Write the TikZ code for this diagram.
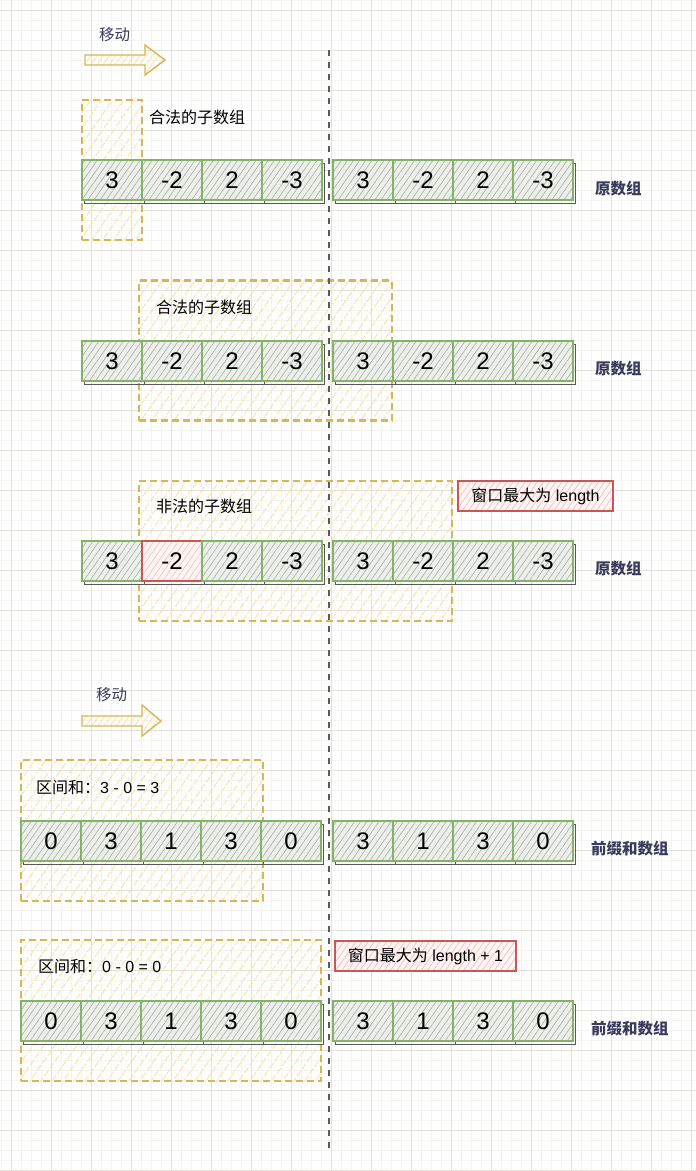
\documentclass[tikz,border=0pt]{standalone}
\usepackage{fontspec}
\setmainfont{Liberation Sans}
\newfontfamily\cjk{Noto Sans CJK SC}
\usetikzlibrary{patterns.meta}
\definecolor{cgreen}{HTML}{82B366}
\definecolor{cellbg}{HTML}{ECEFEA}
\definecolor{cellhatch}{HTML}{9EA59C}
\definecolor{ystroke}{HTML}{D6B656}
\definecolor{yhatch}{HTML}{FAE4A4}
\definecolor{rstroke}{HTML}{C95753}
\definecolor{rhatch}{HTML}{F2B9B7}
\definecolor{rbg}{HTML}{FDF4F4}
\definecolor{labelc}{HTML}{3A3A5C}
\definecolor{gridmaj}{HTML}{E3E1DA}
\definecolor{gridmin}{HTML}{F4F3EF}
\definecolor{dashc}{HTML}{5A5A5A}
\tikzset{
  shadowln/.style={draw=black!65, line width=0.7pt},
  gc/.style={draw=cgreen, line width=1.1pt, minimum width=60pt, minimum height=40pt, inner sep=0pt,
    font=\fontsize{24}{28}\selectfont, preaction={fill=cellbg},
    pattern={Lines[angle=55,distance=5pt,line width=0.5pt]}, pattern color=cellhatch},
  rc/.style={gc, draw=rstroke, preaction={fill=rbg}, pattern color=rhatch},
  ybox/.style={draw=ystroke, line width=2.2pt, dash pattern=on 7pt off 4pt, inner sep=0pt,
    pattern={Lines[angle=55,distance=9pt,line width=0.9pt]}, pattern color=yhatch},
  rbox/.style={draw=rstroke, line width=1.1pt, inner sep=0pt, preaction={fill=rbg},
    pattern={Lines[angle=55,distance=5pt,line width=0.6pt]}, pattern color=rhatch,
    font=\fontsize{16}{19}\selectfont},
  blockarrow/.style={draw=ystroke, line width=1.4pt, line join=miter,
    pattern={Lines[angle=55,distance=5pt,line width=0.8pt]}, pattern color=yhatch},
  lbl/.style={anchor=west, inner sep=0pt, font=\fontsize{16}{19}\selectfont},
  rowlbl/.style={anchor=west, inner sep=0pt, text=labelc, font=\fontsize{15.5}{18}\selectfont\cjk\bfseries},
  movelbl/.style={anchor=west, inner sep=0pt, text=labelc, font=\fontsize{15.5}{18}\selectfont\cjk},
  vdash/.style={draw=dashc, line width=2pt, dash pattern=on 6pt off 6pt}
}
\newcommand\cellrow[4]{%
  \foreach \t/\s [count=\k, evaluate=\k as \xx using {#2+60*(\k-1)}] in {#4} {
    \draw[shadowln] (\xx+2,#3+3) rectangle (\xx+62,#3+43);
    \node[\s] (#1\k) at (\xx+30,#3+20) {\t};
  }%
}
\begin{document}
\begin{tikzpicture}[x=1pt,y=-1pt]
\fill[white] (0,0) rectangle (696,1171);
\useasboundingbox (0,0) rectangle (696,1171);
% grid
\foreach \i in {1,11,...,691} \draw[gridmin, line width=0.8pt] (\i,0) -- (\i,1171);
\foreach \j in {0,10,...,1170} \draw[gridmin, line width=0.8pt] (0,\j) -- (696,\j);
\foreach \i in {11,51,...,691} \draw[gridmaj, line width=1pt] (\i,0) -- (\i,1171);
\foreach \j in {10,50,...,1170} \draw[gridmaj, line width=1pt] (0,\j) -- (696,\j);

% yellow windows
\node[ybox, minimum width=60pt, minimum height=140pt] (w1) at (112,170) {};
\node[ybox, minimum width=253pt, minimum height=140pt] (w2) at (265.5,350.5) {};
\node[ybox, minimum width=313pt, minimum height=140pt] (w3) at (295.5,551) {};
\node[ybox, minimum width=242pt, minimum height=141pt] (w4) at (142,830.5) {};
\node[ybox, minimum width=300pt, minimum height=141pt] (w5) at (171,1010.5) {};

% block arrows
\draw[blockarrow] (85,55) -- (145,55) -- (145,45) -- (165,60) -- (145,75) -- (145,65) -- (85,65) -- cycle;
\draw[blockarrow] (82,716) -- (142,716) -- (142,705) -- (161,721) -- (142,736) -- (142,726) -- (82,726) -- cycle;

% cells
\cellrow{ra}{82}{160}{3/gc,-2/gc,2/gc,-3/gc}
\cellrow{rb}{333}{160}{3/gc,-2/gc,2/gc,-3/gc}
\cellrow{sa}{82}{341}{3/gc,-2/gc,2/gc,-3/gc}
\cellrow{sb}{333}{341}{3/gc,-2/gc,2/gc,-3/gc}
\cellrow{ta}{82}{541}{3/gc,-2/rc,2/gc,-3/gc}
\cellrow{tb}{333}{541}{3/gc,-2/gc,2/gc,-3/gc}
\cellrow{pa}{21}{821}{0/gc,3/gc,1/gc,3/gc,0/gc}
\cellrow{pb}{333}{821}{3/gc,1/gc,3/gc,0/gc}
\cellrow{qa}{21}{1001}{0/gc,3/gc,1/gc,3/gc,0/gc}
\cellrow{qb}{333}{1001}{3/gc,1/gc,3/gc,0/gc}

% red notes
\node[rbox, minimum width=155pt, minimum height=30pt] (n1) at (535.5,496) {{\cjk 窗口最大为} length};
\node[rbox, minimum width=181pt, minimum height=30pt] (n2) at (425.5,956) {{\cjk 窗口最大为} length + 1};

% divider
\coordinate (dtop) at (329,50);
\coordinate (dbot) at (329,1148);
\draw[vdash] (dtop) -- (dbot);

% labels
\node[movelbl] (m1) at (99,35) {移动};
\node[movelbl] (m2) at (96,695) {移动};
\node[lbl] (l1) at (149,117) {\cjk 合法的子数组};
\node[lbl] (l2) at (156,307) {\cjk 合法的子数组};
\node[lbl] (l3) at (156,506) {\cjk 非法的子数组};
\node[lbl] (l4) at (36,787) {{\cjk 区间和：}3 - 0 = 3};
\node[lbl] (l5) at (38,966) {{\cjk 区间和：}0 - 0 = 0};
\node[rowlbl] (o1) at (595,189) {原数组};
\node[rowlbl] (o2) at (595,369) {原数组};
\node[rowlbl] (o3) at (595,569) {原数组};
\node[rowlbl] (p1) at (591,849) {前缀和数组};
\node[rowlbl] (p2) at (591,1029) {前缀和数组};
\end{tikzpicture}
\end{document}
